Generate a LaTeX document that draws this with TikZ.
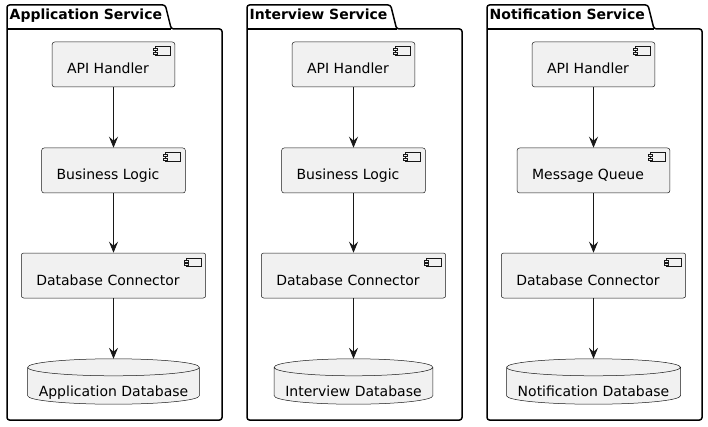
\documentclass[tikz,border=0pt]{standalone}
\usepackage{fontspec}
\setmainfont{DejaVu Sans}
\usetikzlibrary{calc, arrows.meta, backgrounds}
\definecolor{boxfill}{HTML}{F1F1F1}
\definecolor{ink}{HTML}{181818}
\tikzset{>={Stealth[length=11pt,width=9pt,inset=4pt]}}
\tikzset{
  comp/.style={draw=ink, line width=0.5pt, fill=boxfill, rounded corners=2.5pt,
    inner xsep=0pt, inner ysep=0pt, text height=32pt, text depth=13pt,
    font=\fontsize{14pt}{16pt}\selectfont,
    execute at begin node=\hspace*{15pt}, execute at end node=\hspace*{26pt}},
  dbnode/.style={inner xsep=11pt, inner ysep=0pt, text height=37pt, text depth=8pt,
    font=\fontsize{14pt}{16pt}\selectfont},
  dbline/.style={draw=ink, line width=0.5pt, fill=boxfill},
  icon/.style={draw=ink, line width=0.5pt, fill=boxfill},
  pkg/.style={draw=black, line width=1.5pt, rounded corners=2.5pt},
  pkgtitle/.style={font=\bfseries\fontsize{14pt}{16pt}\selectfont, inner sep=0pt, anchor=base west},
  flow/.style={->, draw=ink, line width=0.8pt},
}
\newcommand{\compicon}[1]{%
  \draw[icon] ($(#1.north east)+(-20,-5)$) rectangle ($(#1.north east)+(-5,-13.5)$);
  \draw[icon] ($(#1.north east)+(-22,-7)$) rectangle ($(#1.north east)+(-18,-9)$);
  \draw[icon] ($(#1.north east)+(-22,-10.5)$) rectangle ($(#1.north east)+(-18,-12.5)$);
}
\newcommand{\dbshape}[1]{%
  \path[dbline] let \p1=(#1.north west), \p2=(#1.south east), \n1={(\x2-\x1)/2} in
    (\x1,\y1-8.5pt) -- (\x1,\y2+8.5pt) arc[start angle=180, end angle=360, x radius=\n1, y radius=8.5pt]
    -- (\x2,\y1-8.5pt) arc[start angle=0, end angle=180, x radius=\n1, y radius=8.5pt] -- cycle
    (\x1,\y1-8.5pt) arc[start angle=180, end angle=360, x radius=\n1, y radius=8.5pt];
}
\begin{document}
\begin{tikzpicture}[x=1pt, y=1pt]
  \useasboundingbox (0,0) rectangle (708,426);
  \foreach \cx/\s/\pkgname/\midtext/\dbtext in {
      113.5/app/Application Service/Business Logic/Application Database,
      353.5/int/Interview Service/Business Logic/Interview Database,
      593.5/not/Notification Service/Message Queue/Notification Database} {
    % package frame with its tab
    \node[pkgtitle] (\s-title) at (\cx-104,406) {\pkgname};
    \draw[pkg] let \p1=(\s-title.east) in
      (\cx-106.5,6) -- (\cx-106.5,421) -- (\x1+3pt,421pt) -- (\x1+9pt,397pt)
      -- (\cx+108.5,397) -- (\cx+108.5,6) -- cycle;
    \draw[pkg, rounded corners=0pt] let \p1=(\s-title.east) in
      (\cx-106.5,397) -- (\x1+9pt,397pt);
    \node[comp] (\s-api) at (\cx,361.5) {API Handler};
    \node[comp] (\s-mid) at (\cx,255.5) {\midtext};
    \node[comp] (\s-con) at (\cx,150.5) {Database Connector};
    \node[dbnode] (\s-db) at (\cx,44.5) {\dbtext};
    \begin{scope}[on background layer]
      \dbshape{\s-db}
    \end{scope}
    \foreach \c in {api,mid,con} {\compicon{\s-\c}}
    \draw[flow] (\s-api) -- (\s-mid);
    \draw[flow] (\s-mid) -- (\s-con);
    \draw[flow] (\s-con) -- (\s-db);
  }
\end{tikzpicture}
\end{document}
